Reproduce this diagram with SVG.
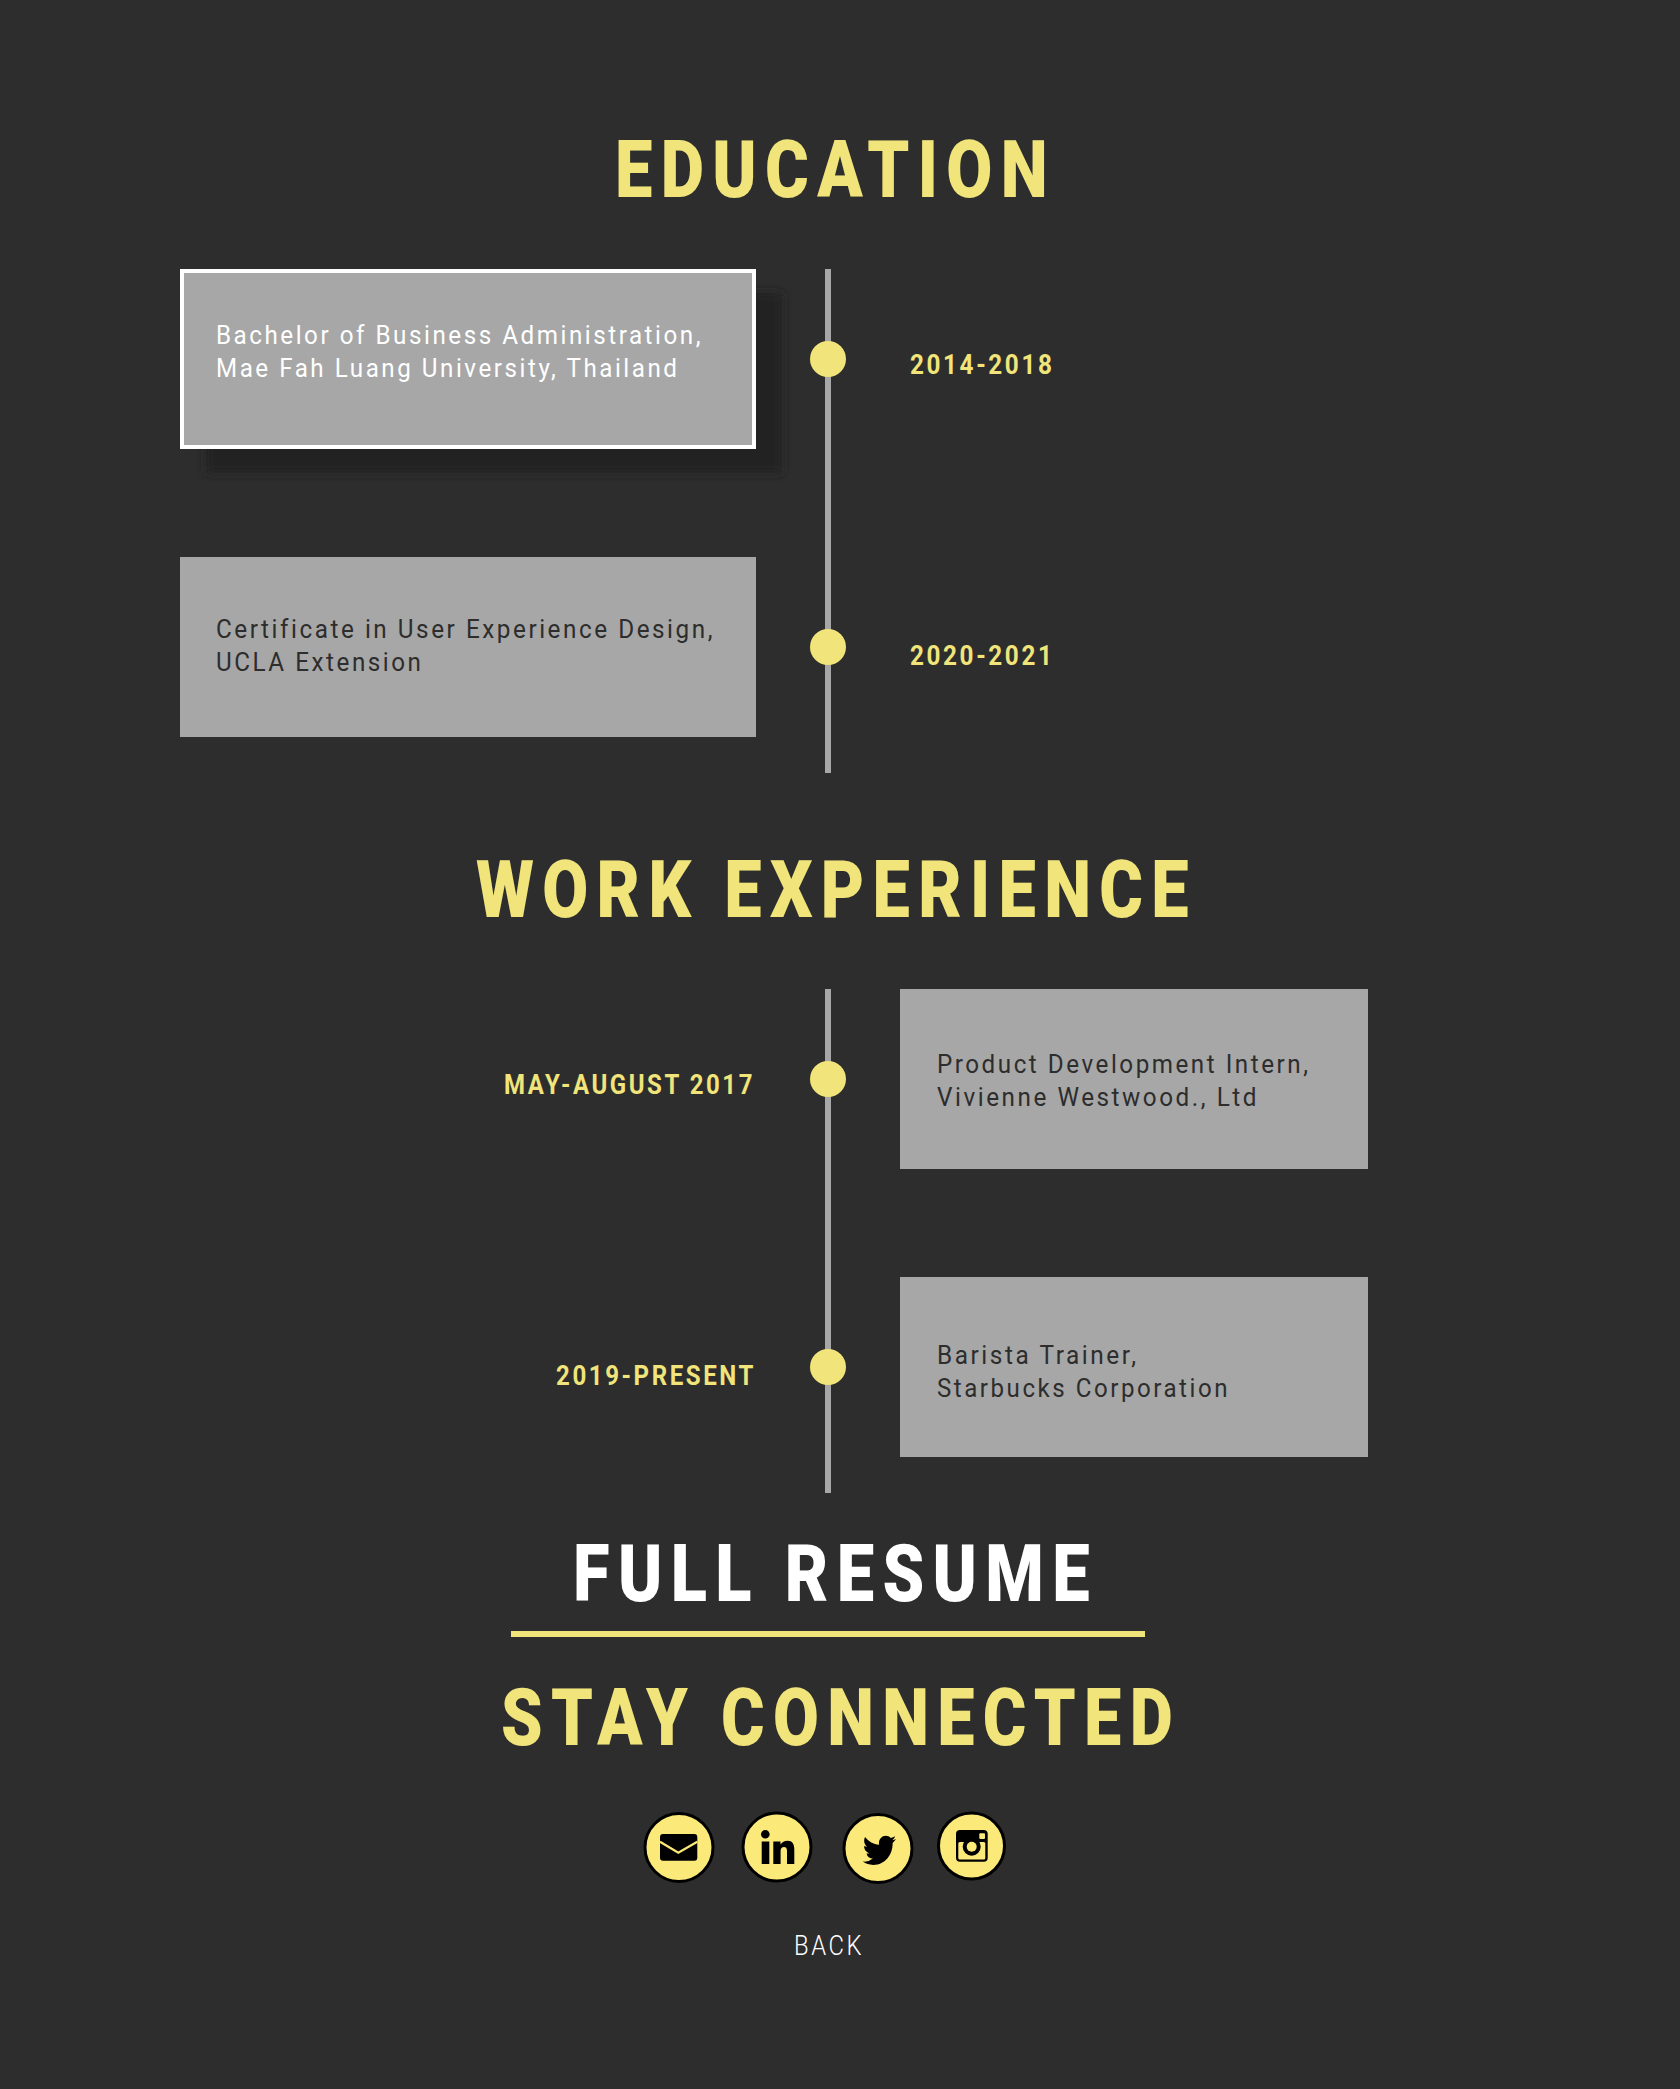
<svg xmlns="http://www.w3.org/2000/svg" width="1680" height="2089" viewBox="0 0 1680 2089">
<style>
text{font-family:Roboto,"Liberation Sans",sans-serif}
.h{font-size:80px;font-weight:900;fill:#f0e47a;letter-spacing:10px}
.d{font-size:28px;font-weight:700;fill:#f0e47a;letter-spacing:3px}
.t{font-size:26.67px;font-weight:400;fill:#2d2d2d;letter-spacing:2.800px}
.w{fill:#fff}
.box{fill:#a7a7a7}
.dot{fill:#f0e47a}
.ln{fill:#a7a7a7}
.ic{fill:#fbe97a;stroke:#000;stroke-width:3}
</style>
<defs><filter id="sh" x="-10%" y="-20%" width="120%" height="140%"><feGaussianBlur stdDeviation="5"/></filter></defs>
<rect width="1680" height="2089" fill="#2d2d2d"/>
<text class="h" x="615" y="197" textLength="441" lengthAdjust="spacingAndGlyphs">EDUCATION</text>
<g id="connectors">
<rect class="ln" x="825" y="269" width="6" height="504"/>
<rect class="ln" x="825" y="989" width="6" height="504"/>
</g>
<g id="edu1">
<rect x="206" y="293" width="576" height="180" fill="#212121" filter="url(#sh)"/>
<rect class="box" x="182" y="271" width="572" height="176" stroke="#fff" stroke-width="4"/>
<text class="t w" x="216" y="344" textLength="487" lengthAdjust="spacingAndGlyphs">Bachelor of Business Administration,</text>
<text class="t w" x="216" y="377" textLength="463.500" lengthAdjust="spacingAndGlyphs">Mae Fah Luang University, Thailand</text>
<circle class="dot" cx="828" cy="359" r="18"/>
<text class="d" x="910" y="374" textLength="144.500" lengthAdjust="spacingAndGlyphs">2014-2018</text>
</g>
<g id="edu2">
<rect class="box" x="180" y="557" width="576" height="180"/>
<text class="t" x="216" y="638" textLength="499" lengthAdjust="spacingAndGlyphs">Certificate in User Experience Design,</text>
<text class="t" x="216" y="671" textLength="207.500" lengthAdjust="spacingAndGlyphs">UCLA Extension</text>
<circle class="dot" cx="828" cy="647" r="18"/>
<text class="d" x="910" y="665" textLength="144.500" lengthAdjust="spacingAndGlyphs">2020-2021</text>
</g>
<text class="h" x="476" y="917" textLength="721" lengthAdjust="spacingAndGlyphs">WORK EXPERIENCE</text>
<g id="work1">
<text class="d" x="504" y="1094" textLength="251" lengthAdjust="spacingAndGlyphs">MAY-AUGUST 2017</text>
<circle class="dot" cx="828" cy="1079" r="18"/>
<rect class="box" x="900" y="989" width="468" height="180"/>
<text class="t" x="937" y="1073" textLength="373.500" lengthAdjust="spacingAndGlyphs">Product Development Intern,</text>
<text class="t" x="937" y="1106" textLength="322" lengthAdjust="spacingAndGlyphs">Vivienne Westwood., Ltd</text>
</g>
<g id="work2">
<text class="d" x="556" y="1385" textLength="200" lengthAdjust="spacingAndGlyphs">2019-PRESENT</text>
<circle class="dot" cx="828" cy="1367" r="18"/>
<rect class="box" x="900" y="1277" width="468" height="180"/>
<text class="t" x="937" y="1364" textLength="201.500" lengthAdjust="spacingAndGlyphs">Barista Trainer,</text>
<text class="t" x="937" y="1397" textLength="293" lengthAdjust="spacingAndGlyphs">Starbucks Corporation</text>
</g>
<g id="resume">
<text class="h" style="fill:#fff" x="573" y="1601" textLength="525" lengthAdjust="spacingAndGlyphs">FULL RESUME</text>
<rect x="511" y="1631" width="634" height="6" fill="#f0e47a"/>
</g>
<text class="h" x="501" y="1745" textLength="680" lengthAdjust="spacingAndGlyphs">STAY CONNECTED</text>
<g id="mail">
<circle class="ic" cx="679" cy="1847.500" r="34"/>
<rect x="660" y="1834" width="37.300" height="26.700" rx="3"/>
<path d="M660 1841.700l18.300 11 19-11" fill="none" stroke="#fbe97a" stroke-width="2.200"/>
</g>
<g id="linkedin">
<circle class="ic" cx="777" cy="1847" r="34"/>
<circle cx="765.300" cy="1834.300" r="4.300"/>
<rect x="761.700" y="1841.500" width="7.600" height="22.500"/>
<path d="M773.300 1841.500h7.200v3c1.500-2.300 4-3.700 7-3.700 4.800 0 6.800 3.400 6.800 8.500v14.700h-7.300v-13c0-2.500-.9-4-3-4s-3.400 1.500-3.400 4v13h-7.300z"/>
</g>
<g id="twitter">
<circle class="ic" cx="878" cy="1848.500" r="34"/>
<path transform="translate(860.300 1828.800) scale(1.590 1.720)" d="M22.460 6c-.77.35-1.600.58-2.460.69.88-.53 1.560-1.370 1.880-2.380-.83.5-1.750.85-2.720 1.050C18.370 4.500 17.260 4 16 4c-2.350 0-4.270 1.920-4.270 4.290 0 .34.04.67.11.98C8.280 9.090 5.110 7.380 3 4.790c-.37.63-.58 1.370-.58 2.150 0 1.490.75 2.810 1.910 3.560-.71 0-1.370-.2-1.950-.5v.03c0 2.080 1.480 3.820 3.440 4.210a4.220 4.220 0 0 1-1.930.07 4.280 4.280 0 0 0 4 2.980 8.521 8.521 0 0 1-5.330 1.840c-.34 0-.68-.02-1.020-.06C3.440 20.290 5.700 21 8.120 21 16 21 20.330 14.460 20.330 8.790c0-.19 0-.37-.01-.56.84-.6 1.560-1.360 2.140-2.230z"/>
</g>
<g id="instagram">
<circle class="ic" cx="971.500" cy="1846" r="33"/>
<rect x="956" y="1830" width="31.700" height="31.700" rx="4"/>
<rect x="958.300" y="1842" width="27" height="17.400" rx="1.500" fill="#fbe97a"/>
<circle cx="971.700" cy="1846.700" r="9"/>
<circle cx="971.700" cy="1846.700" r="5" fill="#fbe97a"/>
<rect x="979.300" y="1833.300" width="5.700" height="5.700" rx="1" fill="#fbe97a"/>
</g>
<g id="back"><text style="font-size:28px;font-weight:300;fill:#fff;letter-spacing:3px" x="794" y="1955" textLength="70" lengthAdjust="spacingAndGlyphs">BACK</text></g>
</svg>
